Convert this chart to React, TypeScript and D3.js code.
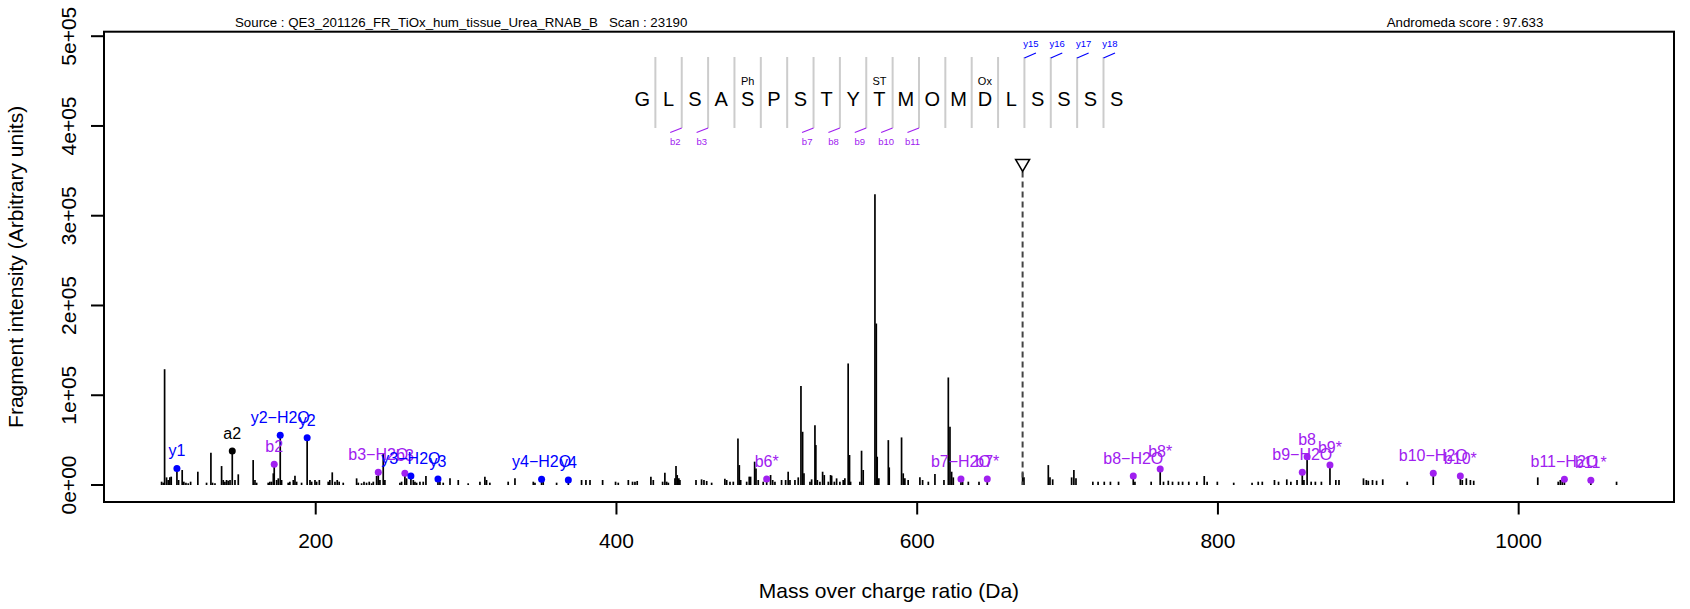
import React from "react";
import * as d3 from "d3";

const W = 1690;
const H = 609;

const sourceText = "Source : QE3_201126_FR_TiOx_hum_tissue_Urea_RNAB_B   Scan : 23190";
const scoreText = "Andromeda score : 97.633";
const xTitle = "Mass over charge ratio (Da)";
const yTitle = "Fragment intensity (Arbitrary units)";

const sequence = ["G", "L", "S", "A", "S", "P", "S", "T", "Y", "T", "M", "O", "M", "D", "L", "S", "S", "S", "S"];
const modIndex = [4, 9, 13];
const modLabels = ["Ph", "ST", "Ox"];
const bIonSeps = [1, 2, 6, 7, 8, 9, 10];
const bIonLabels = ["b2", "b3", "b7", "b8", "b9", "b10", "b11"];
const yIonSeps = [14, 15, 16, 17];
const yIonLabels = ["y15", "y16", "y17", "y18"];

const xTicks = [200, 400, 600, 800, 1000];
const yTicks = [0, 100000, 200000, 300000, 400000, 500000];
const yTickLabels = ["0e+00", "1e+05", "2e+05", "3e+05", "4e+05", "5e+05"];

const peakMz = [
  97.5, 98.6, 99.5, 100.8, 101.9, 103.0, 103.9, 108.8, 111.2, 112.3, 113.7, 115.2, 116.8,
  121.6, 127.4, 130.3, 131.4, 133.0, 137.4, 138.5, 139.6, 140.7, 141.8, 143.0, 146.3, 148.5,
  158.4, 159.6, 160.7, 168.4, 169.5, 170.6, 171.8, 174.0, 175.1, 177.3, 181.7, 182.8, 185.1,
  186.2, 187.3, 190.6, 196.2, 197.3, 199.5, 200.6, 202.4, 208.3, 209.4, 211.0, 212.8, 214.3,
  215.6, 218.3, 227.2, 228.3, 230.5, 232.1, 233.8, 235.6, 237.2, 238.3, 240.5, 242.7, 244.9,
  246.0, 256.0, 257.1, 260.4, 264.9, 266.0, 267.1, 269.3, 271.5, 273.3, 282.6, 284.8, 289.3,
  294.8, 301.4, 309.2, 312.5, 313.6, 315.8, 328.0, 332.5, 344.7, 345.8, 351.3, 360.2, 376.8,
  379.7, 382.4, 390.8, 399.4, 401.2, 407.9, 410.7, 412.3, 413.8, 422.9, 424.5, 430.7, 432.2,
  433.4, 434.5, 438.9, 439.6, 440.4, 441.5, 442.2, 452.9, 456.6, 458.2, 460.0, 463.3, 472.1,
  473.3, 475.5, 477.7, 480.8, 481.7, 482.6, 486.6, 488.3, 489.2, 491.9, 492.8, 494.3, 497.6,
  502.5, 503.9, 505.4, 509.8, 512.5, 514.2, 515.4, 518.7, 520.9, 522.7, 523.8, 524.7, 528.7,
  529.8, 532.0, 532.6, 533.6, 535.3, 537.1, 538.2, 540.9, 542.4, 543.1, 544.9, 546.4, 548.6,
  550.8, 551.9, 554.1, 555.0, 555.7, 561.9, 563.0, 564.1, 571.9, 572.8, 573.4, 574.5, 580.8,
  581.4, 589.6, 590.7, 591.8, 594.0, 601.8, 603.6, 607.4, 611.8, 617.8, 620.7, 621.8, 622.9,
  624.0, 630.2, 634.0, 641.1, 670.1, 671.0, 687.2, 688.3, 690.1, 702.7, 704.2, 705.6, 716.8,
  720.3, 724.4, 728.5, 733.9, 744.8, 755.6, 763.8, 767.0, 769.8, 773.8, 776.5, 780.6, 786.0,
  790.9, 792.8, 799.6, 810.5, 822.7, 826.8, 829.5, 837.6, 840.3, 845.8, 848.5, 852.6, 857.2,
  862.0, 864.8, 868.8, 878.4, 880.5, 896.8, 898.7, 900.0, 902.8, 905.5, 909.6, 925.9, 962.5,
  965.2, 967.9, 970.1, 1012.7, 1026.3, 1027.7, 1029.0, 1065.1,
];
const peakIntensity = [
  3700, 2600, 129000, 8500, 5600, 8500, 9300, 5600, 16700, 3700, 2600, 1900, 3700,
  14800, 2600, 36000, 2600, 1900, 21100, 5600, 3700, 5600, 4800, 5600, 5600, 11900,
  27800, 5600, 2600, 2600, 3700, 3700, 13000, 5600, 7400, 5600, 2600, 3700, 5600,
  10400, 3700, 2600, 5600, 3700, 5600, 3700, 5600, 3700, 5600, 14100, 3700, 5600,
  3700, 2600, 7400, 2600, 1900, 3700, 2600, 3700, 1900, 3700, 10000, 5600, 35000,
  5600, 2600, 3700, 7400, 5600, 3700, 2600, 3700, 3700, 10000, 3700, 2600, 7400,
  5600, 1900, 3700, 9300, 5600, 2600, 3700, 7400, 3700, 2600, 5600, 2600, 5600,
  5600, 5600, 5600, 3700, 2600, 5600, 3700, 3700, 4500, 9300, 5600, 3700, 13700,
  3700, 2600, 7400, 21100, 11100, 7400, 5600, 5600, 6300, 5600, 4500, 2600, 7000,
  5600, 3700, 3700, 51900, 22200, 5600, 3700, 9300, 9300, 26000, 18500, 5600, 3700,
  11100, 5600, 3700, 5600, 5600, 14800, 5600, 5600, 8500, 110200, 59300, 13000, 3700,
  6300, 66700, 44500, 5600, 3700, 14800, 11100, 3700, 11100, 10400, 3700, 7400, 3700,
  5600, 7400, 135400, 33400, 3700, 3700, 38200, 16700, 323800, 179900, 31500, 7400, 50000,
  19600, 53000, 13000, 7400, 5600, 8500, 5600, 3700, 12200, 5600, 119800, 64900, 14800,
  8500, 3700, 3700, 3700, 13700, 8500, 22200, 8500, 6300, 8500, 16700, 7400, 3700,
  3700, 3700, 3700, 3700, 3700, 3700, 3700, 4800, 3700, 3700, 3700, 3700, 3700,
  10000, 3700, 3700, 2600, 2600, 3700, 3700, 5600, 3700, 6300, 3700, 5600, 5600,
  3700, 3700, 3700, 5600, 5600, 7400, 5600, 4800, 5600, 4800, 6300, 3700, 5600,
  7400, 5600, 4800, 8500, 3700, 5600, 4800, 3700,
];

const ionLabels = [
  "y1", "a2", "b2", "y2\u2212H2O", "y2", "b3\u2212H2O", "b3", "y3\u2212H2O", "y3", "y4\u2212H2O", "y4",
  "b6*", "b7\u2212H2O", "b7*", "b8\u2212H2O", "b8*", "b9\u2212H2O", "b8", "b9*", "b10\u2212H2O", "b10*",
  "b11\u2212H2O", "b11*",
];
const ionMz = [
  107.7, 144.5, 172.4, 176.4, 194.3, 241.6, 259.3, 263.3, 281.3, 350.2, 368.0,
  499.9, 629.1, 646.6, 743.7, 761.6, 856.1, 859.3, 874.5, 943.2, 961.2, 1030.4, 1048.0,
];
const ionIntensity = [
  18500, 37800, 23000, 55300, 52700, 14100, 13000, 10000, 6700, 6300, 5600,
  6700, 6700, 6700, 10000, 17800, 14100, 31500, 22300, 13000, 10000, 6300, 5200,
];
const ionType = [
  "y", "a", "b", "y", "y", "b", "b", "y", "y", "y", "y",
  "b", "b", "b", "b", "b", "b", "b", "b", "b", "b", "b", "b",
];

const precursorMz = 670.1;
const precursorMarkIntensity = 356000;

const ionColor: Record<string, string> = { y: "#0000FF", b: "#A020F0", a: "#000000" };
const FONT = "'Liberation Sans', Arial, Helvetica, sans-serif";

export default function App() {
  const box = { left: 104, right: 1674, top: 31.7, bottom: 502 };
  const x = d3.scaleLinear().domain([59.2, 1103.3]).range([box.left, box.right]);
  const y = d3.scaleLinear().domain([0, 500000]).range([485, 36.2]);

  const seqX0 = 642.2;
  const seqStep = 26.36;
  const letterX = (i: number) => seqX0 + i * seqStep;
  const sepX = (i: number) => seqX0 + (i + 0.5) * seqStep;
  const sepTop = 57;
  const sepBottom = 128;

  const px = x(precursorMz);
  const py = y(precursorMarkIntensity);

  return (
    <svg
      width={W}
      height={H}
      viewBox={`0 0 ${W} ${H}`}
      style={{ position: "absolute", left: 0, top: 0, background: "#fff", fontFamily: FONT }}
    >
      <rect x={0} y={0} width={W} height={H} fill="#fff" />

      {/* header texts */}
      <text x={235} y={27} fontSize={13.3} fill="#000" style={{ whiteSpace: "pre" }}>
        {sourceText}
      </text>
      <text x={1465} y={27} fontSize={13.3} fill="#000" textAnchor="middle">
        {scoreText}
      </text>

      {/* peaks */}
      <g stroke="#000" strokeWidth={1.7}>
        {peakMz.map((m, i) => (
          <line key={i} x1={x(m)} x2={x(m)} y1={y(0)} y2={y(peakIntensity[i])} />
        ))}
        {ionMz.map((m, i) => (
          <line key={"ion" + i} x1={x(m)} x2={x(m)} y1={y(0)} y2={y(ionIntensity[i])} />
        ))}
      </g>

      {/* precursor */}
      <line x1={px} x2={px} y1={py + 6} y2={y(0)} stroke="#444" strokeWidth={2} strokeDasharray="6,4" />
      <path
        d={`M${px - 7},${py - 6} L${px + 7},${py - 6} L${px},${py + 6} Z`}
        fill="none"
        stroke="#000"
        strokeWidth={1.5}
      />

      {/* ion dots & labels */}
      {ionMz.map((m, i) => (
        <g key={"ionm" + i}>
          <circle cx={x(m)} cy={y(ionIntensity[i])} r={3.5} fill={ionColor[ionType[i]]} />
          <text
            x={x(m)}
            y={y(ionIntensity[i]) - 12}
            fontSize={16}
            textAnchor="middle"
            fill={ionColor[ionType[i]]}
          >
            {ionLabels[i]}
          </text>
        </g>
      ))}

      {/* sequence */}
      <g>
        {sequence.slice(0, -1).map((_, i) => (
          <line key={"sep" + i} x1={sepX(i)} x2={sepX(i)} y1={sepTop} y2={sepBottom} stroke="#CCCCCC" strokeWidth={2} />
        ))}
        {sequence.map((s, i) => (
          <text key={"aa" + i} x={letterX(i)} y={106} fontSize={20} textAnchor="middle" fill="#000">
            {s}
          </text>
        ))}
        {modIndex.map((k, i) => (
          <text key={"mod" + i} x={letterX(k)} y={85} fontSize={11} textAnchor="middle" fill="#000">
            {modLabels[i]}
          </text>
        ))}
        {bIonSeps.map((k, i) => (
          <g key={"bs" + i}>
            <line x1={sepX(k)} x2={sepX(k) - 11.5} y1={sepBottom} y2={sepBottom + 4.5} stroke="#A020F0" strokeWidth={1.2} />
            <text x={sepX(k) - 6.4} y={144.5} fontSize={9.5} textAnchor="middle" fill="#A020F0">
              {bIonLabels[i]}
            </text>
          </g>
        ))}
        {yIonSeps.map((k, i) => (
          <g key={"ys" + i}>
            <line x1={sepX(k)} x2={sepX(k) + 11.5} y1={sepTop + 1} y2={sepTop - 4} stroke="#0000FF" strokeWidth={1.2} />
            <text x={sepX(k) + 6.4} y={46.5} fontSize={9.5} textAnchor="middle" fill="#0000FF">
              {yIonLabels[i]}
            </text>
          </g>
        ))}
      </g>

      {/* box */}
      <rect
        x={box.left}
        y={box.top}
        width={box.right - box.left}
        height={box.bottom - box.top}
        fill="none"
        stroke="#000"
        strokeWidth={2}
      />

      {/* x axis */}
      <g>
        {xTicks.map((t) => (
          <g key={"xt" + t}>
            <line x1={x(t)} x2={x(t)} y1={box.bottom} y2={box.bottom + 12.5} stroke="#000" strokeWidth={2} />
            <text x={x(t)} y={548} fontSize={21} textAnchor="middle" fill="#000">
              {t}
            </text>
          </g>
        ))}
        <text x={(box.left + box.right) / 2} y={598} fontSize={21} textAnchor="middle" fill="#000">
          {xTitle}
        </text>
      </g>

      {/* y axis */}
      <g>
        <line x1={box.left} x2={box.left} y1={y(0)} y2={y(500000)} stroke="#000" strokeWidth={2} />
        {yTicks.map((t, i) => (
          <g key={"yt" + t}>
            <line x1={box.left} x2={box.left - 13} y1={y(t)} y2={y(t)} stroke="#000" strokeWidth={2} />
            <text
              transform={`translate(76,${y(t)}) rotate(-90)`}
              fontSize={21}
              textAnchor="middle"
              fill="#000"
            >
              {yTickLabels[i]}
            </text>
          </g>
        ))}
        <text
          transform={`translate(23,${(box.top + box.bottom) / 2}) rotate(-90)`}
          fontSize={21}
          textAnchor="middle"
          fill="#000"
        >
          {yTitle}
        </text>
      </g>
    </svg>
  );
}
